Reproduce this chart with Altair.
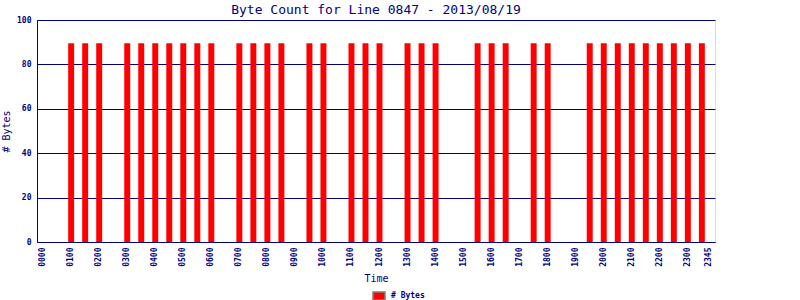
import altair as alt
import pandas as pd

NAVY = "#000080"
FONT = "DejaVu Sans Mono"

# 15-minute time slots of the day (x categories)
all_times = [f"{h:02d}{m:02d}" for h in range(24) for m in (0, 15, 30, 45)]
label_times = [f"{h:02d}00" for h in range(24)] + ["2345"]

bar_times = [
    "0100", "0130", "0200",
    "0300", "0330", "0400", "0430", "0500", "0530", "0600",
    "0700", "0730", "0800", "0830",
    "0930", "1000",
    "1100", "1130", "1200",
    "1300", "1330", "1400",
    "1530", "1600", "1630",
    "1730", "1800",
    "1930", "2000", "2030", "2100", "2130", "2200", "2230", "2300", "2330",
]
bar_values = [
    89.5, 89.5, 89.5,
    89.5, 89.5, 89.5, 89.5, 89.5, 89.5, 89.5,
    89.5, 89.5, 89.5, 89.5,
    89.5, 89.5,
    89.5, 89.5, 89.5,
    89.5, 89.5, 89.5,
    89.5, 89.5, 89.5,
    89.5, 89.5,
    89.5, 89.5, 89.5, 89.5, 89.5, 89.5, 89.5, 89.5, 89.5,
]
series_name = "# Bytes"

df = pd.DataFrame({
    "time": bar_times,
    "bytes": bar_values,
    "series": [series_name] * len(bar_times),
})

chart = alt.Chart(df).mark_bar(color="#ff0000").encode(
    x=alt.X(
        "time:N",
        sort=all_times,
        scale=alt.Scale(domain=all_times, paddingInner=0.15, paddingOuter=0.45),
        axis=alt.Axis(
            values=label_times, labelAngle=270, title="Time", ticks=False,
            domainColor=NAVY, labelColor=NAVY, labelFont=FONT, labelFontSize=8,
            labelFontWeight="bold", labelPadding=5, titleFont=FONT, titleFontSize=10,
            titleFontWeight="normal", titleColor=NAVY, titlePadding=7, grid=False,
        ),
    ),
    y=alt.Y(
        "bytes:Q",
        scale=alt.Scale(domain=[0, 100], nice=False),
        axis=alt.Axis(
            values=[0, 20, 40, 60, 80, 100], title="# Bytes", ticks=False,
            grid=True, gridColor=NAVY, gridOpacity=1, gridWidth=1,
            domainColor=NAVY, labelColor=NAVY, labelFont=FONT, labelFontSize=8,
            labelFontWeight="bold", labelPadding=6, titleFont=FONT, titleFontSize=10,
            titleFontWeight="normal", titleColor=NAVY, titlePadding=5,
        ),
    ),
    color=alt.Color(
        "series:N",
        scale=alt.Scale(domain=[series_name], range=["#ff0000"]),
        legend=alt.Legend(
            orient="none", legendX=337, legendY=271, title=None,
            symbolType="M-1.5,-1H1.5V1H-1.5Z", symbolSize=64,
            symbolStrokeColor="#808080", symbolStrokeWidth=1.5,
            labelFont=FONT, labelFontSize=8, labelFontWeight="bold",
            labelColor=NAVY, labelOffset=7, padding=0,
        ),
    ),
).properties(
    width=678,
    height=222,
    title=alt.Title(
        "Byte Count for Line 0847 - 2013/08/19",
        font=FONT, fontSize=13, fontWeight="normal", color=NAVY, offset=4,
        anchor="middle", frame="group", dy=5,
    ),
    autosize=alt.AutoSizeParams(type="none"),
    padding={"left": 37, "top": 20, "right": 85, "bottom": 58},
).configure_view(
    stroke=NAVY, strokeWidth=1
).configure(background="white")

chart.save("out.html", embed_options={"renderer": "svg", "actions": False})
